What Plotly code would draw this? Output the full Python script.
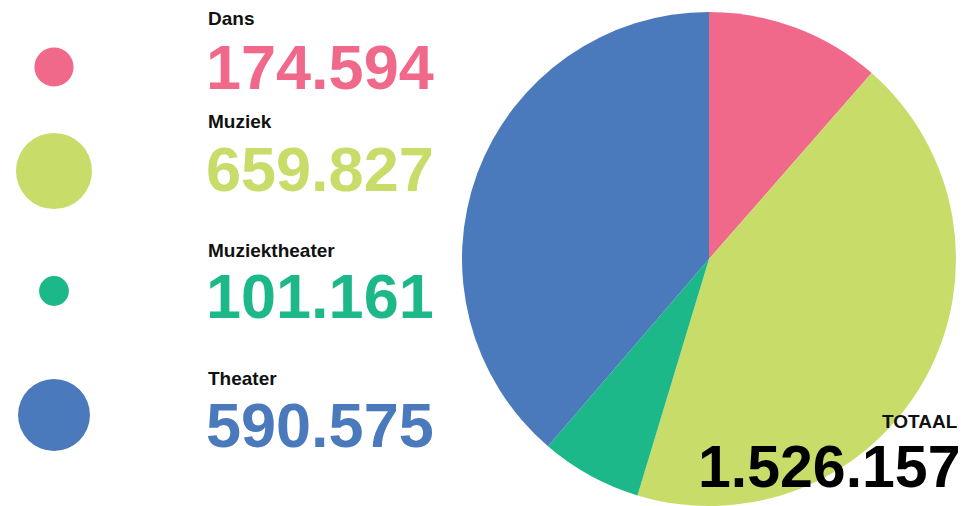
import numpy as np
import plotly.graph_objects as go

# data
categories = ["Dans", "Muziek", "Muziektheater", "Theater"]
values = [174594, 659827, 101161, 590575]
colors = ["#F0698A", "#C8DC6A", "#1DB88A", "#4A79BC"]
total_label = "TOTAAL"

W, H = 967, 506
FONT = "Liberation Sans, Arial, sans-serif"

# left hand legend rows (pixel units, y from top)
circle_y = [67, 171, 291, 415]
label_y = [18, 121, 250, 378]
number_y = [67, 169, 296, 425]
circle_x = 54
text_x = 205


def fmt(v):
    return f"{v:,}".replace(",", ".")


total = sum(values)
diam = 0.0936 * np.sqrt(np.array(values, dtype=float))

fig = go.Figure()

fig.add_trace(go.Pie(labels=categories, values=values, sort=False,
                     direction="clockwise", rotation=0,
                     marker=dict(colors=colors, line=dict(width=0)),
                     textinfo="none", showlegend=False,
                     domain=dict(x=[(709 - 247) / W, (709 + 247) / W],
                                 y=[0, 1 - 12 / H])))

fig.add_trace(go.Scatter(x=[circle_x] * len(values), y=circle_y, mode="markers",
                         marker=dict(size=diam, color=colors, opacity=1,
                                     line=dict(width=0)),
                         text=categories, hoverinfo="text", showlegend=False))

for cat, v, c, ly, ny in zip(categories, values, colors, label_y, number_y):
    fig.add_annotation(x=text_x + 1, y=ly, text=f"<b>{cat}</b>",
                       xanchor="left", yanchor="middle", showarrow=False,
                       font=dict(family=FONT, size=19, color="#111111"))
    fig.add_annotation(x=text_x - 1, y=ny, text=f"<b>{fmt(v)}</b>",
                       xanchor="left", yanchor="middle", showarrow=False,
                       font=dict(family=FONT, size=63, color=c))

fig.add_annotation(x=960, y=421, text=f"<b>{total_label}</b>",
                   xanchor="right", yanchor="middle", showarrow=False,
                   font=dict(family=FONT, size=19, color="#111111"))
fig.add_annotation(x=962, y=467, text=f"<b>{fmt(total)}</b>",
                   xanchor="right", yanchor="middle", showarrow=False,
                   font=dict(family=FONT, size=59, color="#000000"))

fig.update_xaxes(range=[0, W], visible=False, fixedrange=True)
fig.update_yaxes(range=[H, 0], visible=False, fixedrange=True)
fig.update_layout(width=W, height=H, margin=dict(l=0, r=0, t=0, b=0),
                  paper_bgcolor="white", plot_bgcolor="rgba(0,0,0,0)")

fig.write_html("out.html", config={"displayModeBar": False},
               post_script="document.body.style.margin='0';")
